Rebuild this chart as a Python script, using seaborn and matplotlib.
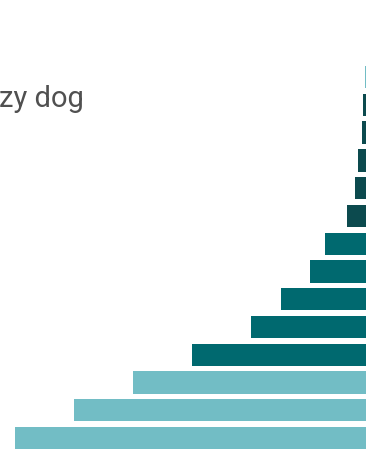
import matplotlib
matplotlib.use("Agg")
import matplotlib.pyplot as plt
import seaborn as sns
import pandas as pd

# Data (top to bottom) (bar lengths)
categories = ["A", "B", "C", "D", "E", "F", "G", "H", "I", "J", "K", "L", "M", "N"]
values = [1.5, 3, 4, 8, 11, 19, 41, 56, 85, 115, 174, 233, 292, 351]
groups = ["light", "dark", "dark", "dark", "dark", "dark",
          "mid", "mid", "mid", "mid", "mid",
          "light", "light", "light"]
title_text = "zy dog"

palette = {"light": "#72bdc5", "mid": "#00696f", "dark": "#0c4a4e"}

df = pd.DataFrame({"category": categories, "value": values, "group": groups})

sns.set_theme(style="white")
plt.rcParams["font.family"] = ["Roboto", "DejaVu Sans"]

fig = plt.figure(figsize=(3.66, 4.51), dpi=100)
ax = fig.add_axes([0, 0, 1, 1])

sns.barplot(data=df, x="value", y="category", hue="group", palette=palette,
            dodge=False, width=0.805, saturation=1, linewidth=0,
            legend=False, orient="h", ax=ax)

ax.set_xlim(366, 0)
ax.set_ylim(13.47, -2.78)
ax.set_axis_off()

fig.text(-0.003, (451 - 107) / 451, title_text, fontsize=21, color="#505050",
         ha="left", va="baseline")

fig.savefig("out.png", dpi=100)
